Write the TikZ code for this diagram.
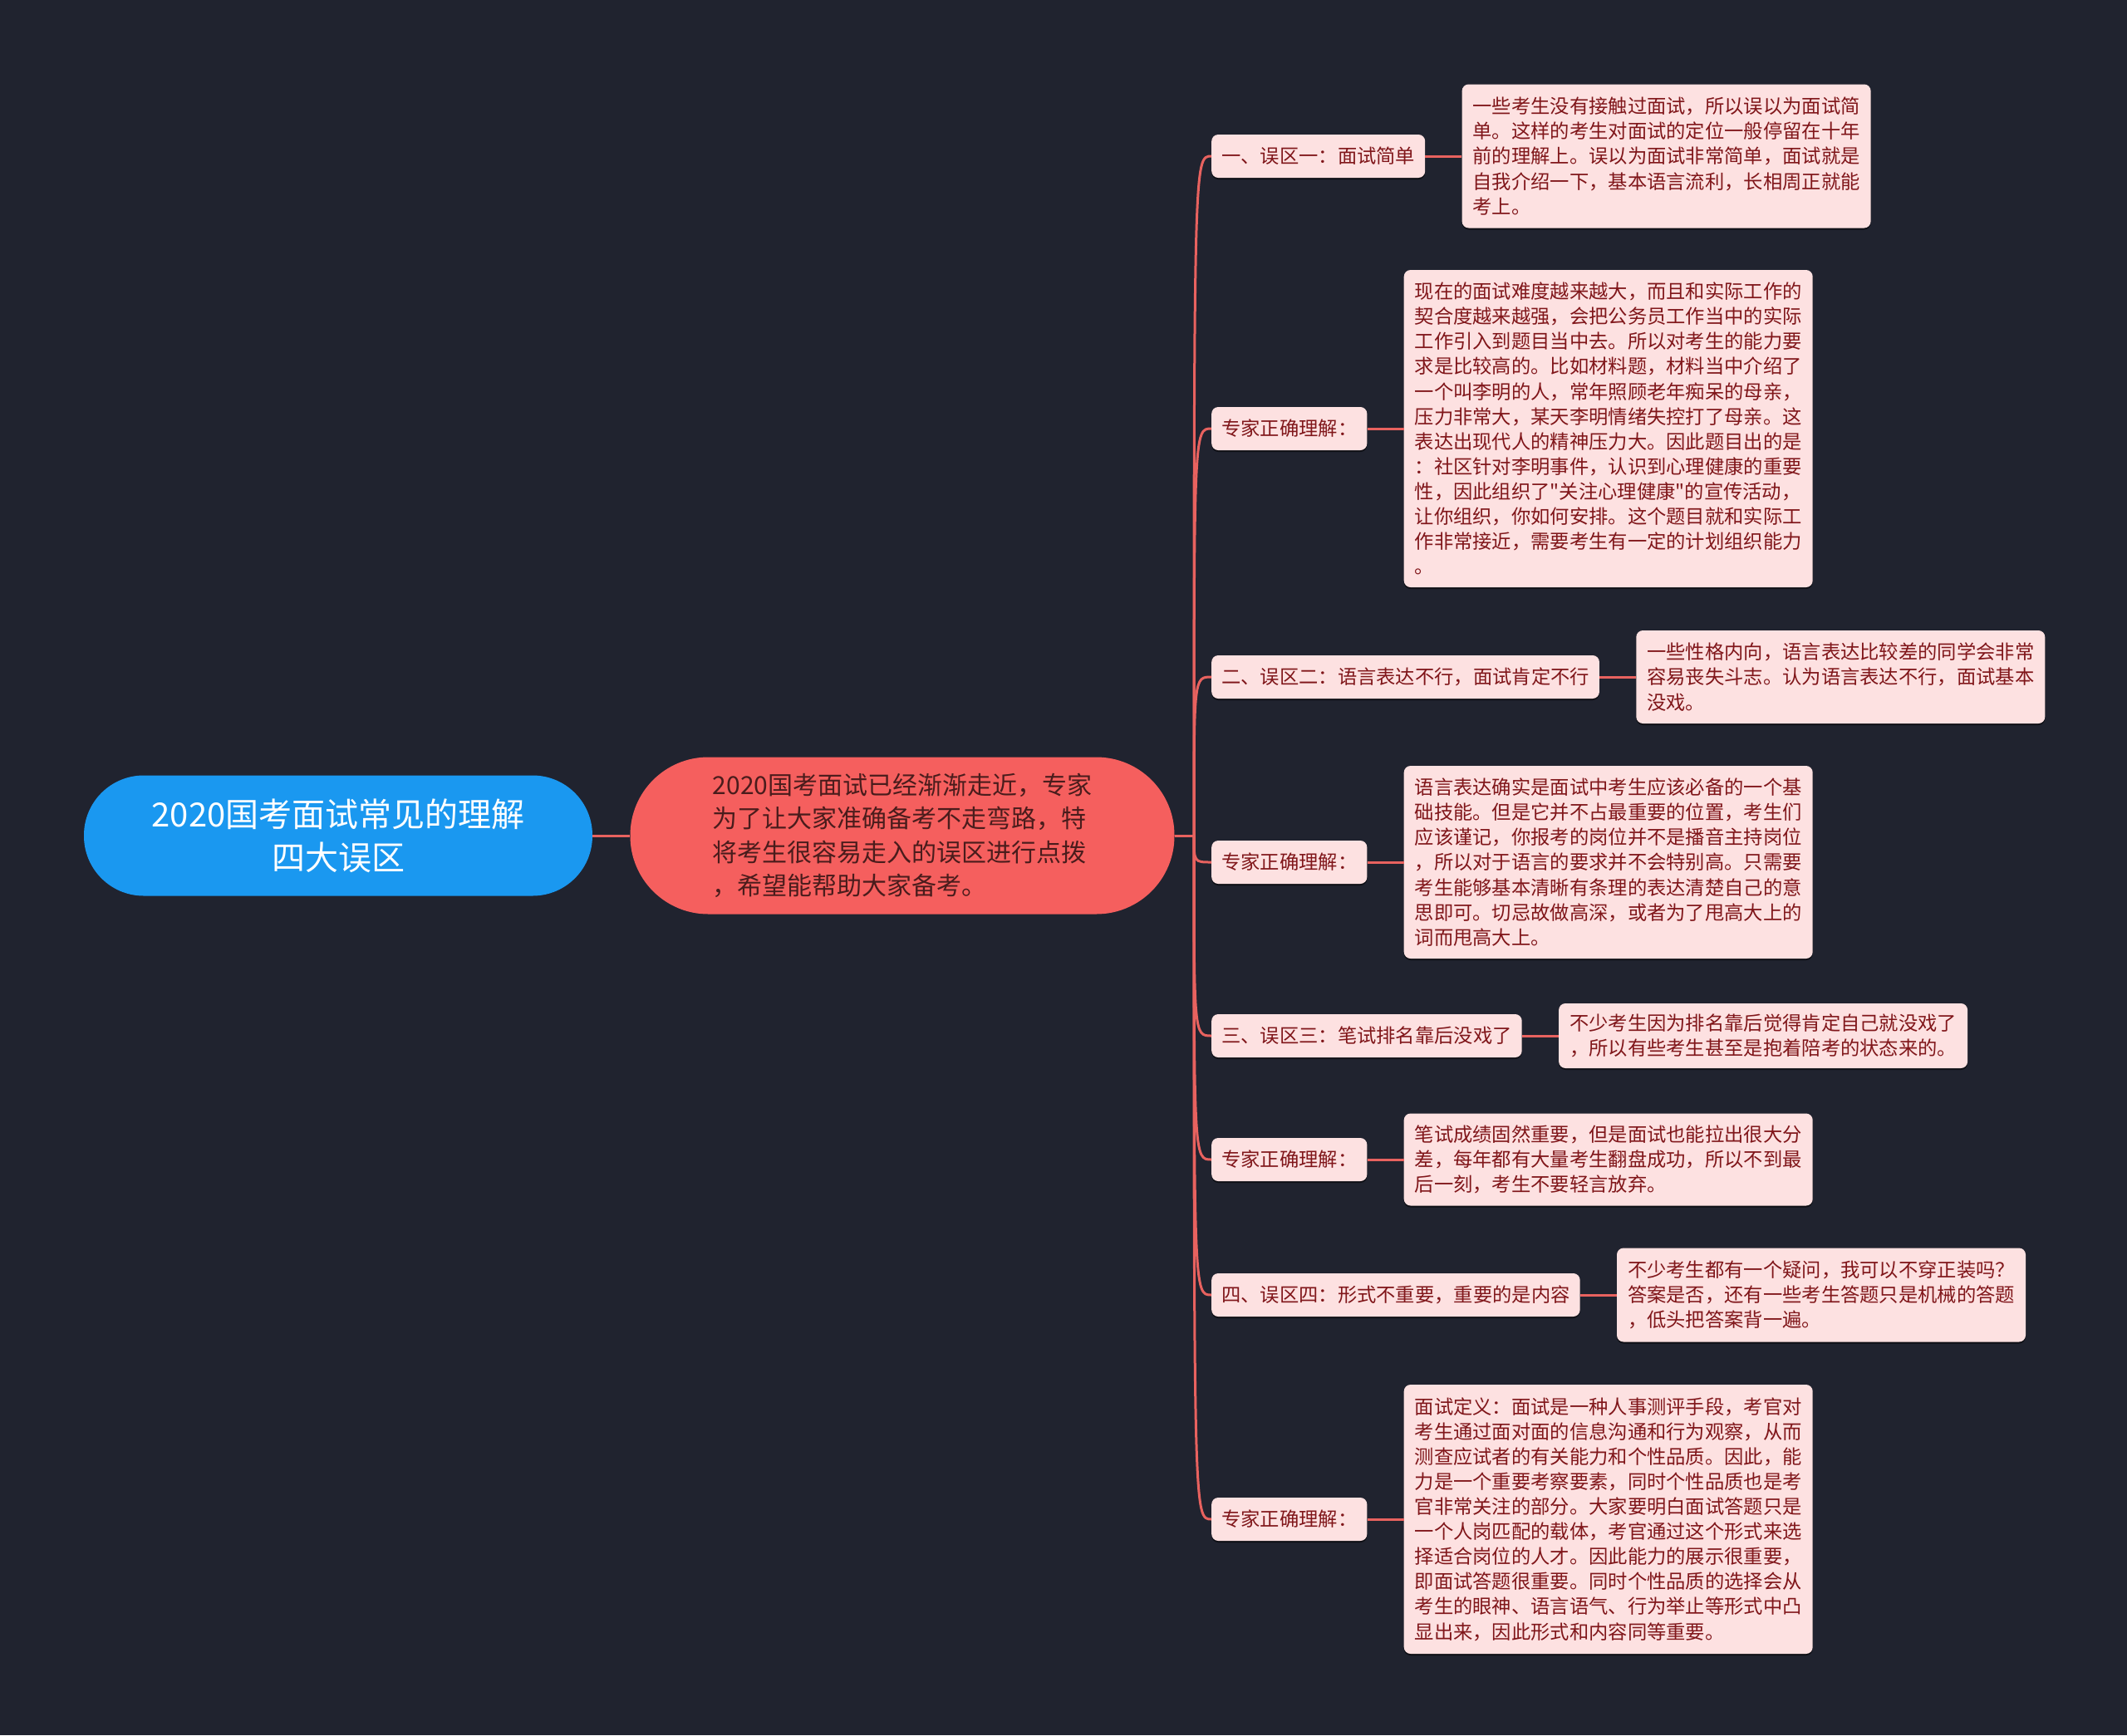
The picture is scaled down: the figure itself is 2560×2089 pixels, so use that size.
\documentclass[tikz,border=0pt]{standalone}
\usepackage{fontspec}
\setmainfont{Noto Sans CJK SC}
\newfontfamily\qf{Noto Sans CJK SC}
\usetikzlibrary{positioning,shadows}
\definecolor{bgc}{HTML}{20232F}
\definecolor{rootc}{HTML}{1A98F0}
\definecolor{midc}{HTML}{F55F5E}
\definecolor{midtxt}{HTML}{4A1C1C}
\definecolor{linec}{HTML}{E8625F}
\definecolor{nodec}{HTML}{FDE1E1}
\definecolor{txtc}{HTML}{80161A}
\begin{document}
\begin{tikzpicture}[x=1pt,y=-1pt,
  br/.style={draw=linec, line width=3pt},
  rootn/.style={fill=rootc, rounded corners=72pt, minimum width=612pt, minimum height=145pt,
    text=white, align=center, font=\fontsize{40pt}{52pt}\selectfont},
  midn/.style={fill=midc, rounded corners=94pt, minimum width=655pt, minimum height=189pt,
    text=midtxt, align=left, font=\fontsize{30pt}{40.3pt}\selectfont},
  shd/.style={drop shadow={shadow xshift=0pt, shadow yshift=-2pt, opacity=0.55, fill=black}},
  lvtwo/.style={shd, fill=nodec, text=txtc, rounded corners=8pt, inner xsep=12pt, inner ysep=0pt,
    minimum height=52pt, font=\fontsize{23.3pt}{30.1pt}\selectfont, anchor=west},
  lvthree/.style={shd, fill=nodec, text=txtc, rounded corners=8pt, inner xsep=13pt, inner ysep=0pt,
    minimum width=492pt, align=left, font=\fontsize{23.3pt}{30.1pt}\selectfont, anchor=west},
]
\useasboundingbox (0,0) rectangle (2560,2089);
\fill[bgc] (0,0) rectangle (2560,2089);

\node[rootn] (root) at (407,1006) {2020国考面试常见的理解\\四大误区};
\node[midn] (mid) at (1086,1006) {2020国考面试已经渐渐走近，专家\\为了让大家准确备考不走弯路，特\\将考生很容易走入的误区进行点拨\\，希望能帮助大家备考。};
\coordinate (T) at (1437,1006);

\node[lvtwo] (a1) at (1458,188) {一、误区一：面试简单};
\node[lvtwo] (a2) at (1458,516) {专家正确理解：};
\node[lvtwo] (a3) at (1458,815) {二、误区二：语言表达不行，面试肯定不行};
\node[lvtwo] (a4) at (1458,1038) {专家正确理解：};
\node[lvtwo] (a5) at (1458,1247) {三、误区三：笔试排名靠后没戏了};
\node[lvtwo] (a6) at (1458,1396) {专家正确理解：};
\node[lvtwo] (a7) at (1458,1559) {四、误区四：形式不重要，重要的是内容};
\node[lvtwo] (a8) at (1458,1829) {专家正确理解：};

\node[lvthree, minimum height=173pt] (b1) at ([xshift=44pt]a1.east) {一些考生没有接触过面试，所以误以为面试简\\单。这样的考生对面试的定位一般停留在十年\\前的理解上。误以为面试非常简单，面试就是\\自我介绍一下，基本语言流利，长相周正就能\\考上。};
\node[lvthree, minimum height=382pt] (b2) at ([xshift=44pt]a2.east) {现在的面试难度越来越大，而且和实际工作的\\契合度越来越强，会把公务员工作当中的实际\\工作引入到题目当中去。所以对考生的能力要\\求是比较高的。比如材料题，材料当中介绍了\\一个叫李明的人，常年照顾老年痴呆的母亲，\\压力非常大，某天李明情绪失控打了母亲。这\\表达出现代人的精神压力大。因此题目出的是\\：社区针对李明事件，认识到心理健康的重要\\性，因此组织了{\qf"}关注心理健康{\qf"}的宣传活动，\\让你组织，你如何安排。这个题目就和实际工\\作非常接近，需要考生有一定的计划组织能力\\。};
\node[lvthree, minimum height=112pt] (b3) at ([xshift=44pt]a3.east) {一些性格内向，语言表达比较差的同学会非常\\容易丧失斗志。认为语言表达不行，面试基本\\没戏。};
\node[lvthree, minimum height=232pt] (b4) at ([xshift=44pt]a4.east) {语言表达确实是面试中考生应该必备的一个基\\础技能。但是它并不占最重要的位置，考生们\\应该谨记，你报考的岗位并不是播音主持岗位\\，所以对于语言的要求并不会特别高。只需要\\考生能够基本清晰有条理的表达清楚自己的意\\思即可。切忌故做高深，或者为了甩高大上的\\词而甩高大上。};
\node[lvthree, minimum height=78pt] (b5) at ([xshift=44pt]a5.east) {不少考生因为排名靠后觉得肯定自己就没戏了\\，所以有些考生甚至是抱着陪考的状态来的。};
\node[lvthree, minimum height=111pt] (b6) at ([xshift=44pt]a6.east) {笔试成绩固然重要，但是面试也能拉出很大分\\差，每年都有大量考生翻盘成功，所以不到最\\后一刻，考生不要轻言放弃。};
\node[lvthree, minimum height=113pt] (b7) at ([xshift=44pt]a7.east) {不少考生都有一个疑问，我可以不穿正装吗？\\答案是否，还有一些考生答题只是机械的答题\\，低头把答案背一遍。};
\node[lvthree, minimum height=324pt] (b8) at ([xshift=44pt]a8.east) {面试定义：面试是一种人事测评手段，考官对\\考生通过面对面的信息沟通和行为观察，从而\\测查应试者的有关能力和个性品质。因此，能\\力是一个重要考察要素，同时个性品质也是考\\官非常关注的部分。大家要明白面试答题只是\\一个人岗匹配的载体，考官通过这个形式来选\\择适合岗位的人才。因此能力的展示很重要，\\即面试答题很重要。同时个性品质的选择会从\\考生的眼神、语言语气、行为举止等形式中凸\\显出来，因此形式和内容同等重要。};

\begin{scope}[on background layer/.try]
\draw[br] (root.east) -- (mid.west);
\draw[br] (mid.east) -- (T);
\foreach \n in {a1,a2,a3,a4,a5,a6,a7,a8}{
  \draw[br] (T) .. controls (T |- \n.west) and (T |- \n.west) .. (\n.west);
}
\foreach \n in {1,...,8}{
  \draw[br] (a\n.east) -- (b\n.west);
}
\end{scope}
\end{tikzpicture}
\end{document}
